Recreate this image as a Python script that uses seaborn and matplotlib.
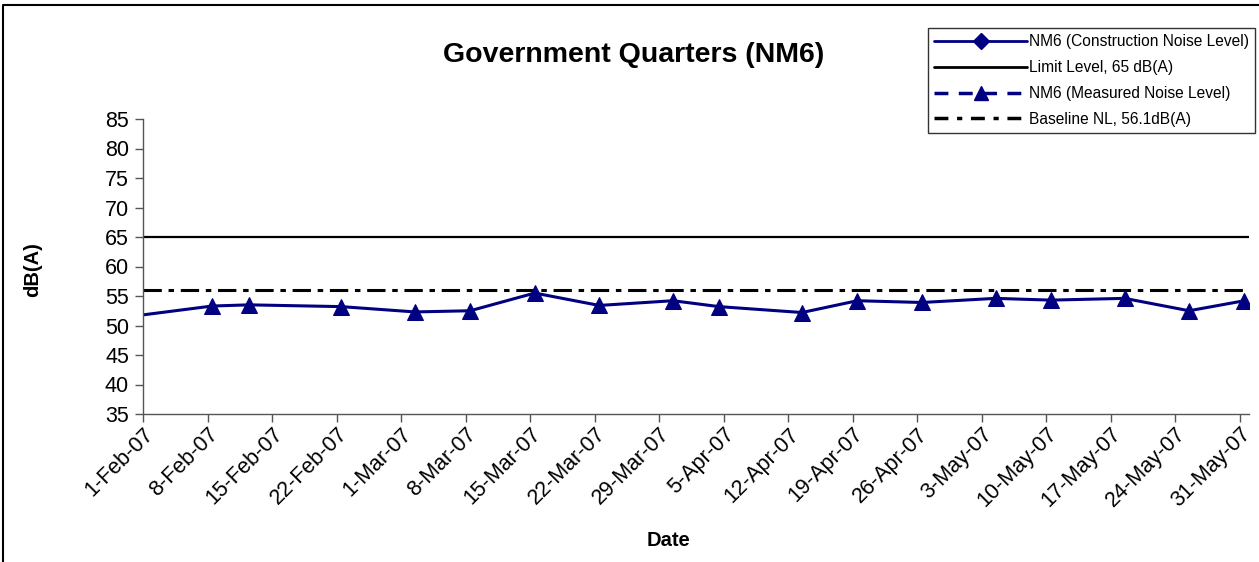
import pandas as pd
import matplotlib
matplotlib.use("Agg")
import matplotlib.pyplot as plt
import matplotlib.dates as mdates
from matplotlib.lines import Line2D
from matplotlib.ticker import FuncFormatter
import seaborn as sns

# measured noise level at NM6
measured_dates = ["2007-01-25", "2007-02-08", "2007-02-12", "2007-02-22", "2007-03-02",
                  "2007-03-08", "2007-03-15", "2007-03-22", "2007-03-30", "2007-04-04",
                  "2007-04-13", "2007-04-19", "2007-04-26", "2007-05-04", "2007-05-10",
                  "2007-05-18", "2007-05-25", "2007-05-31"]
measured_values = [50.5, 53.3, 53.5, 53.2, 52.3, 52.5, 55.5, 53.4, 54.2, 53.2,
                   52.2, 54.2, 53.9, 54.6, 54.3, 54.6, 52.5, 54.2]

# construction noise level - no points in this period
construction_dates = []
construction_values = []

limit_level = 65
baseline_nl = 56.1

title = "Government Quarters (NM6)"
labels = ["NM6 (Construction Noise Level)", "Limit Level, 65 dB(A)",
          "NM6 (Measured Noise Level)", "Baseline NL, 56.1dB(A)"]
y_ticks = list(range(35, 90, 5))

sns.set_theme(style="white")
plt.rcParams['font.family'] = ['Liberation Sans', 'DejaVu Sans']
plt.rcParams.update({"text.color": "black", "axes.labelcolor": "black",
                     "xtick.color": "black", "ytick.color": "black"})

navy = "#000080"

df = pd.DataFrame({"Date": pd.to_datetime(measured_dates), "dB": measured_values})
# excel date axis puts each day in the middle of its slot
df["x"] = df["Date"] + pd.Timedelta(hours=12)

fig = plt.figure(figsize=(12.59, 5.62), dpi=100)
ax = fig.add_axes([143 / 1259, 1 - 414 / 562, (1249 - 143) / 1259, (414 - 119) / 562])

ax.axhline(limit_level, color="black", lw=1.6)
ax.axhline(baseline_nl, color="black", lw=2.2, linestyle=(0, (6, 2.2, 1.8, 2.2)))
ax.plot(pd.to_datetime(construction_dates), construction_values, color=navy, marker="D")
sns.lineplot(data=df, x="x", y="dB", ax=ax, color=navy, lw=2.2, marker="^",
             markersize=11, markeredgecolor=navy, sort=True)

ax.set_xlim(pd.Timestamp("2007-02-01"), pd.Timestamp("2007-06-01"))
ax.set_ylim(35, 85)
ax.set_yticks(y_ticks)
tick_dates = pd.date_range("2007-02-01", "2007-05-31", freq="7D")
ax.set_xticks(tick_dates)
ax.xaxis.set_major_formatter(FuncFormatter(
    lambda v, p: f"{mdates.num2date(v).day}-{mdates.num2date(v).strftime('%b-%y')}"))

for s in ["top", "right"]:
    ax.spines[s].set_visible(False)
for s in ["left", "bottom"]:
    ax.spines[s].set_color("#555555")
    ax.spines[s].set_linewidth(1.0)
ax.tick_params(axis="both", which="major", direction="out", length=6, width=1,
               color="#555555", bottom=True, left=True)
ax.tick_params(axis="y", labelsize=15.5, pad=4)
ax.tick_params(axis="x", labelsize=15.5, pad=1)
plt.setp(ax.get_xticklabels(), rotation=45, ha="right", rotation_mode="anchor")
ax.set_xlabel("")
ax.set_ylabel("")

fig.text(634 / 1259, 1 - 55 / 562, title, ha="center", va="center",
         fontsize=20.5, fontweight="bold")
fig.text(33 / 1259, 1 - 270 / 562, "dB(A)", rotation=90, ha="center", va="center",
         fontsize=14.5, fontweight="bold")
fig.text(669 / 1259, 1 - 540 / 562, "Date", ha="center", va="center",
         fontsize=14.5, fontweight="bold")

handles = [
    Line2D([], [], color=navy, lw=2, marker="D", markersize=8),
    Line2D([], [], color="black", lw=2),
    Line2D([], [], color=navy, lw=2.5, linestyle=(0, (4, 3)), marker="^", markersize=10),
    Line2D([], [], color="black", lw=2.5, linestyle=(0, (4, 2.5, 1.5, 2.5))),
]
leg = fig.legend(handles, labels, loc="upper right", bbox_to_anchor=(1255 / 1259, 1 - 28 / 562),
                 fontsize=11.2, frameon=True, fancybox=False, borderaxespad=0,
                 handlelength=6.0, handletextpad=0.1, labelspacing=0.7, borderpad=0.4)
leg.get_frame().set_edgecolor("black")
leg.get_frame().set_linewidth(1.0)

# chart area border (left and top edges visible)
fig.add_artist(Line2D([3 / 1259, 3 / 1259, 1.0], [0.0, 1 - 5 / 562, 1 - 5 / 562],
                      transform=fig.transFigure, color="black", lw=1.5))

fig.savefig("out.png", dpi=100)
